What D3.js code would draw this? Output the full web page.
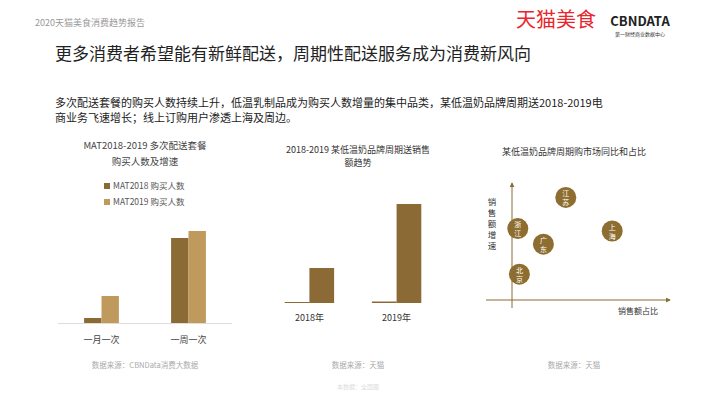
<!DOCTYPE html><html><head><meta charset="utf-8"><script src="https://cdn.jsdelivr.net/npm/d3@7"></script>
<style>body{margin:0;background:#fff}svg{font-family:"Noto Sans CJK SC","Noto Sans",sans-serif}</style></head><body><svg id="s" width="720" height="405"></svg>
<script>
const cats1=["一月一次","一周一次"];
const s2018=[5,85];
const s2019=[27,92];
const years2=["2018年","2019年"];
const small2=[1,1.5];
const big2=[35,99];
const prov=["江苏","浙江","广东","上海","北京"];
const share=[38,8,24,67,9];
const growth=[88,62,49,60,24];
const svg=d3.select("#s");
const dark="#8B6A35",light="#BF9A5C";
function t(x,y,s,o){const e=svg.append("text").attr("x",x).attr("y",y).text(s).attr("font-size",o.fs||10).attr("fill",o.c||"#333").attr("text-anchor",o.a||"start");if(o.w)e.attr("font-weight",o.w);return e;}
t(35,26,"2020天猫美食消费趋势报告",{fs:9,c:"#999"});
t(556,27,"天猫美食",{fs:20,c:"#e8262d",a:"middle"});
t(640,26,"CBNDATA",{fs:13,c:"#222",a:"middle",w:"bold"});
t(640,36,"第一财经商业数据中心",{fs:5,c:"#333",a:"middle"});
t(55,60,"更多消费者希望能有新鲜配送，周期性配送服务成为消费新风向",{fs:17,c:"#222"});
t(55,107,"多次配送套餐的购买人数持续上升，低温乳制品成为购买人数增量的集中品类，某低温奶品牌周期送2018-2019电",{fs:11,c:"#222"});
t(55,122,"商业务飞速增长；线上订购用户渗透上海及周边。",{fs:11,c:"#222"});
// chart1
t(145,149,"MAT2018-2019 多次配送套餐",{fs:9.5,c:"#444",a:"middle"});
t(145,165,"购买人数及增速",{fs:9.5,c:"#444",a:"middle"});
svg.append("rect").attr("x",104).attr("y",183).attr("width",6).attr("height",6).attr("fill",dark);
t(113,189,"MAT2018 购买人数",{fs:8.5,c:"#555"});
svg.append("rect").attr("x",104).attr("y",199).attr("width",6).attr("height",6).attr("fill",light);
t(113,205,"MAT2019 购买人数",{fs:8.5,c:"#555"});
const x1=d3.scaleBand().domain(cats1).range([58,232]).paddingInner(0.6).paddingOuter(0.3);
const y1=d3.scaleLinear().domain([0,100]).range([323,223]);
cats1.forEach((c,i)=>{const bw=x1.bandwidth()/2;
svg.append("rect").attr("x",x1(c)).attr("y",y1(s2018[i])).attr("width",bw).attr("height",323-y1(s2018[i])).attr("fill",dark);
svg.append("rect").attr("x",x1(c)+bw).attr("y",y1(s2019[i])).attr("width",bw).attr("height",323-y1(s2019[i])).attr("fill",light);
t(x1(c)+bw,343,c,{fs:9,c:"#444",a:"middle"});});
svg.append("line").attr("x1",58).attr("x2",232).attr("y1",323.5).attr("y2",323.5).attr("stroke","#ddd");
t(145,368,"数据来源：CBNData消费大数据",{fs:7.5,c:"#aaa",a:"middle"});
// chart2
t(358,153,"2018-2019 某低温奶品牌周期送销售",{fs:9,c:"#333",a:"middle"});
t(358,166,"额趋势",{fs:9,c:"#333",a:"middle"});
const x2=d3.scaleBand().domain(years2).range([268,438]).paddingInner(0.15).paddingOuter(0.05);
const y2=d3.scaleLinear().domain([0,100]).range([303,203]);
years2.forEach((c,i)=>{const bw=x2.bandwidth()/3;const x0=x2(c)+x2.bandwidth()/2-bw;
svg.append("rect").attr("x",x0).attr("y",y2(small2[i])).attr("width",bw).attr("height",303-y2(small2[i])).attr("fill",dark);
svg.append("rect").attr("x",x0+bw).attr("y",y2(big2[i])).attr("width",bw).attr("height",303-y2(big2[i])).attr("fill",dark);
t(x0+bw,321,c,{fs:9,c:"#333",a:"middle"});});
t(358,368,"数据来源：天猫",{fs:7.5,c:"#aaa",a:"middle"});
// chart3
t(574,155,"某低温奶品牌周期购市场同比和占比",{fs:9,c:"#333",a:"middle"});
const xs=d3.scaleLinear().domain([0,100]).range([505,665]);
const ys=d3.scaleLinear().domain([0,100]).range([303,183]);
svg.append("defs").append("marker").attr("id","ar").attr("viewBox","0 0 6 6").attr("refX",5).attr("refY",3).attr("markerWidth",5).attr("markerHeight",5).attr("orient","auto").append("path").attr("d","M0,0L6,3L0,6Z").attr("fill",dark);
svg.append("line").attr("x1",486).attr("x2",670).attr("y1",300).attr("y2",300).attr("stroke",dark).attr("marker-end","url(#ar)");
svg.append("line").attr("x1",512).attr("x2",512).attr("y1",308).attr("y2",183).attr("stroke",dark).attr("marker-end","url(#ar)");
["销","售","额","增","速"].forEach((c,i)=>t(492,205+i*11,c,{fs:8.5,c:"#333",a:"middle"}));
t(638,314,"销售额占比",{fs:8,c:"#333",a:"middle"});
prov.forEach((p,i)=>{const cx=xs(share[i]),cy=ys(growth[i]);
svg.append("circle").attr("cx",cx).attr("cy",cy).attr("r",10.5).attr("fill","#8E6E30");
t(cx,cy-1.5,p[0],{fs:7,c:"#fff",a:"middle"});t(cx,cy+7.5,p[1],{fs:7,c:"#fff",a:"middle"});});
t(574,368,"数据来源：天猫",{fs:7.5,c:"#aaa",a:"middle"});
t(358,389,"本数据：全国图",{fs:6,c:"#ddd",a:"middle"});
</script></body></html>
